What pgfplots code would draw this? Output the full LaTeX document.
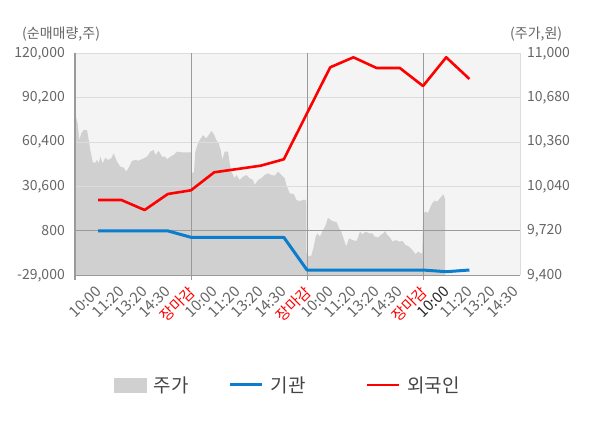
\documentclass[border=0pt]{standalone}
\usepackage{fontspec}
\setmainfont{Noto Sans CJK KR}
\usepackage{pgfplots}
\pgfplotsset{compat=1.18}
\definecolor{bgc}{HTML}{F4F4F4}
\definecolor{areac}{HTML}{D0D0D0}
\definecolor{gridc}{HTML}{DCDCDC}
\definecolor{darkgridc}{HTML}{9A9A9A}
\definecolor{tickc}{HTML}{666666}
\definecolor{legc}{HTML}{444444}
\definecolor{blueline}{HTML}{0A7DCC}
\definecolor{redline}{HTML}{FF0000}
\begin{document}
\begin{tikzpicture}
\useasboundingbox (0,0) rectangle (600pt,428pt);
\pgfplotsset{
 common/.style={
  at={(75pt,152.7pt)}, anchor=south west,
  width=445pt, height=222pt, scale only axis,
  xmin=-1, xmax=18.18,
  major tick length=0pt,
  scaled y ticks=false,
  /pgf/number format/assume math mode=true,
  /pgf/number format/.cd, fixed, precision=0, 1000 sep={,},
  /pgfplots/.cd,
  tick label style={font=\fontsize{14}{16}\selectfont, text=tickc},
 }
}
% ---- right axis: price area ----
\begin{axis}[common,
  ymin=9400, ymax=11000,
  ytick={9400,9720,10040,10360,10680,11000},
  axis background/.style={fill=bgc},
  axis x line=none,
  axis y line*=right,
  y axis line style={draw=gridc, line width=1pt},
  yticklabel style={anchor=west, inner sep=0pt, xshift=7pt},
  ylabel={(주가,원)},
  every axis y label/.style={at={(axis description cs:0.9775,1.087)}, anchor=west, inner sep=0pt, font=\fontsize{14}{16}\selectfont, text=tickc},
]
\addplot[fill=areac, draw=none] coordinates {
(-1,10567)(-0.884,10495)(-0.815,10375)(-0.728,10423)(-0.625,10447)(-0.483,10447)
(-0.409,10375)(-0.341,10303)(-0.237,10219)(-0.151,10207)(-0.052,10231)(0.022,10207)
(0.091,10255)(0.194,10207)(0.306,10248)(0.422,10231)(0.565,10243)(0.668,10279)
(0.810,10219)(0.953,10183)(1.099,10176)(1.211,10147)(1.315,10176)(1.457,10224)
(1.599,10231)(1.746,10226)(1.961,10243)(2.103,10255)(2.246,10291)(2.392,10303)
(2.461,10267)(2.608,10296)(2.750,10255)(2.892,10255)(2.966,10236)(3.108,10255)
(3.254,10267)(3.397,10291)(3.612,10286)(3.970,10286)
(3.987,10291)(4.043,10135)(4.129,10147)(4.185,10291)(4.302,10351)(4.375,10375)
(4.517,10411)(4.659,10387)(4.763,10411)(4.875,10440)(4.991,10416)(5.091,10375)
(5.194,10351)(5.280,10303)(5.349,10231)(5.453,10291)(5.595,10291)(5.668,10207)
(5.737,10147)(5.884,10099)(5.953,10123)(6.099,10087)(6.241,10111)(6.384,10123)
(6.530,10099)(6.672,10087)(6.746,10051)(6.888,10087)(7.030,10099)(7.177,10123)
(7.319,10135)(7.461,10123)(7.608,10118)(7.750,10147)(7.892,10123)(8.039,10099)
(8.108,10051)(8.254,9991)(8.440,9984)(8.539,9943)(8.685,9935)(8.828,9943)(8.966,9943)
(8.978,9558)(9.086,9535)(9.185,9542)(9.272,9594)(9.375,9679)(9.444,9702)
(9.560,9679)(9.659,9715)(9.806,9762)(9.905,9816)(10.022,9798)(10.164,9787)
(10.280,9782)(10.379,9739)(10.478,9715)(10.595,9654)(10.694,9607)(10.810,9667)
(10.953,9654)(11.142,9647)(11.284,9715)(11.384,9695)(11.530,9715)(11.672,9702)
(11.815,9702)(11.918,9679)(12.060,9672)(12.177,9690)(12.289,9702)(12.362,9719)
(12.461,9690)(12.578,9672)(12.677,9643)(12.823,9654)(12.966,9643)(13.108,9647)
(13.254,9618)(13.397,9607)(13.539,9582)(13.685,9551)(13.784,9571)(13.901,9558)(13.966,9558)
(14.013,9849)(14.116,9858)(14.216,9849)(14.302,9885)(14.401,9921)(14.504,9939)
(14.616,9930)(14.733,9957)(14.819,9972)(14.884,9984)(14.948,9950)
} \closedcycle;
\end{axis}
% ---- left axis: net buying ----
\begin{axis}[common,
  ymin=-29000, ymax=120000,
  ytick={-29000,800,30600,60400,90200,120000},
  axis y line*=left, axis x line*=bottom,
  axis line style={draw=darkgridc, line width=1pt},
  ymajorgrids, major grid style={gridc, line width=1pt},
  extra y ticks={800}, extra y tick labels={},
  extra y tick style={grid=major, major grid style={darkgridc, line width=1pt}},
  yticklabel style={anchor=east, inner sep=0pt, xshift=-10pt},
  xtick={0,...,18},
  xticklabels={10:00,11:20,13:20,14:30,\textcolor{red}{장마감},
               10:00,11:20,13:20,14:30,\textcolor{red}{장마감},
               10:00,11:20,13:20,14:30,\textcolor{red}{장마감},
               \textcolor{black!85}{10:00},11:20,13:20,14:30},
  xticklabel style={inner sep=0pt, font=\fontsize{15}{17}\selectfont, xshift=-4pt, yshift=-9pt, rotate=45, anchor=north east},
  extra x ticks={-1,4,9,14}, extra x tick labels={},
  extra x tick style={grid=major, major grid style={darkgridc, line width=1pt},
     major tick length=5pt, tick align=outside, tick style={darkgridc, line width=1pt}},
  ylabel={(순매매량,주)},
  every axis y label/.style={at={(axis description cs:-0.119,1.087)}, anchor=west, inner sep=0pt, font=\fontsize{14}{16}\selectfont, text=tickc},
  legend style={at={(axis description cs:0.0876,-0.494)}, anchor=west, draw=none, fill=none,
     inner sep=0pt, font=\fontsize{19}{21}\selectfont, text=legc,
     /tikz/column 2/.style={column sep=38pt},
     /tikz/column 4/.style={column sep=58pt}},
  legend columns=3,
  legend image code/.code={\draw[#1] (0pt,0pt) -- (32pt,0pt);},
]
\addlegendimage{legend image code/.code={\fill[areac] (0pt,-7pt) rectangle (32pt,7pt);}}
\addlegendentry{\hspace{5pt}주가}
\addplot[blueline, line width=3pt, line join=round] coordinates {
(0,800)(1,800)(2,800)(3,800)(4,-3500)(5,-3500)(6,-3500)(7,-3500)(8,-3500)
(9,-25450)(10,-25450)(11,-25450)(12,-25450)(13,-25450)(14,-25450)(15,-26600)(16,-25450)};
\addlegendentry{\hspace{5pt}기관}
\addplot[redline, line width=2.6pt, line join=round] coordinates {
(0,21530)(1,21530)(2,14820)(3,25560)(4,28050)(5,40130)(6,42340)(7,44560)(8,48850)
(9,79730)(10,110600)(11,117300)(12,110130)(13,110130)(14,98050)(15,117300)(16,102750)};
\addlegendentry{\hspace{5pt}외국인}
\node[font=\fontsize{14}{16}\selectfont, text=tickc] at (axis description cs:0.1124,-0.348) {08월14일};
\node[font=\fontsize{14}{16}\selectfont, text=tickc] at (axis description cs:0.382,-0.348) {08월18일};
\node[font=\fontsize{14}{16}\selectfont, text=tickc] at (axis description cs:0.654,-0.348) {08월19일};
\node[font=\fontsize{14}{16}\selectfont, text=tickc] at (axis description cs:0.820,-0.348) {08월20일};
\end{axis}
\end{tikzpicture}
\end{document}
